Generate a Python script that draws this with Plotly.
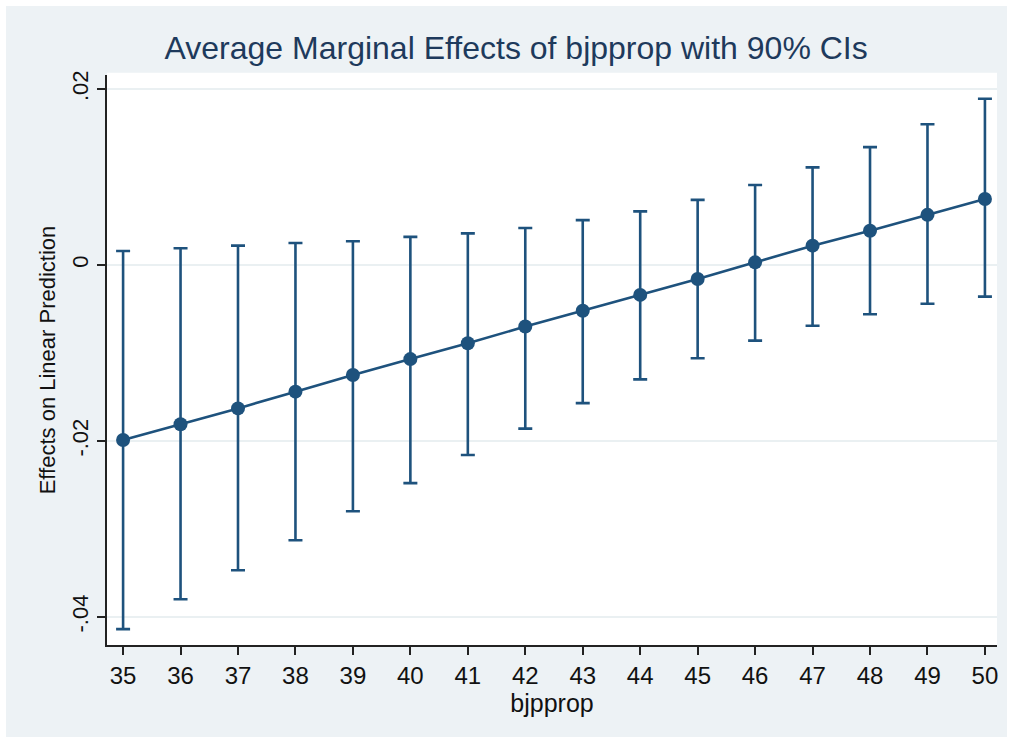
import plotly.graph_objects as go

# Average marginal effects of bjpprop with 90% confidence intervals
bjpprop = [35, 36, 37, 38, 39, 40, 41, 42, 43, 44, 45, 46, 47, 48, 49, 50]
margin = [-0.0199, -0.0181, -0.0163, -0.0144, -0.0125, -0.0107, -0.0089, -0.0070,
          -0.0052, -0.0034, -0.0016, 0.0003, 0.0022, 0.0039, 0.0057, 0.0075]
ci_upper = [0.0016, 0.0019, 0.0022, 0.0025, 0.0027, 0.0032, 0.0036, 0.0042,
            0.0051, 0.0061, 0.0074, 0.0091, 0.0111, 0.0134, 0.0160, 0.0189]
ci_lower = [-0.0414, -0.0380, -0.0347, -0.0313, -0.0280, -0.0248, -0.0216, -0.0186,
            -0.0157, -0.0130, -0.0106, -0.0086, -0.0069, -0.0056, -0.0044, -0.0036]

y_ticks = [-0.04, -0.02, 0, 0.02]
y_ticklabels = ["-.04", "-.02", "0", ".02"]

navy = "#1e527d"
region_bg = "#edf2f5"
grid = "#eaf0f2"
font_family = "Liberation Sans, Arial, sans-serif"

err_plus = [u - m for u, m in zip(ci_upper, margin)]
err_minus = [m - l for m, l in zip(margin, ci_lower)]

fig = go.Figure()
fig.add_trace(go.Scatter(
    x=bjpprop, y=margin,
    mode="lines+markers",
    line=dict(color=navy, width=2.6),
    marker=dict(color=navy, size=14),
    error_y=dict(type="data", symmetric=False, array=err_plus, arrayminus=err_minus,
                 color=navy, thickness=2.6, width=7),
    showlegend=False,
))

# outer graph region and white plot region
fig.add_shape(type="rect", xref="paper", yref="paper", x0=-0.1135, x1=1.0112,
              y0=-0.1614, y1=1.121, fillcolor=region_bg, line_width=0, layer="below")
fig.add_shape(type="rect", xref="paper", yref="paper", x0=0, x1=1, y0=0, y1=1.004,
              fillcolor="white", line_width=0, layer="below")

fig.update_layout(
    width=1014, height=742,
    margin=dict(l=107, r=17, t=75, b=97),
    paper_bgcolor="white",
    plot_bgcolor="white",
    font=dict(family=font_family, color="#111111"),
    title=dict(text="Average Marginal Effects of bjpprop with 90% CIs",
               x=0.509, xanchor="center", y=0.935, yanchor="middle",
               font=dict(size=32, color="#1e3a5c", family=font_family)),
)

fig.update_xaxes(
    range=[34.72, 50.21],
    tickvals=bjpprop,
    ticks="outside", ticklen=8, tickwidth=2, tickcolor="#222222",
    tickfont=dict(size=24, color="#111111"),
    showline=True, linecolor="#222222", linewidth=2,
    showgrid=False, zeroline=False,
    title=dict(text="bjpprop", font=dict(size=25, color="#111111"), standoff=1),
)
fig.update_yaxes(
    range=[-0.0432, 0.0216],
    tickvals=y_ticks, ticktext=y_ticklabels, tickangle=-90,
    ticks="outside", ticklen=8, tickwidth=2, tickcolor="#222222",
    tickfont=dict(size=22, color="#111111"),
    showline=True, linecolor="#222222", linewidth=2,
    showgrid=True, gridcolor=grid, gridwidth=2, zeroline=False,
    title=dict(text="Effects on Linear Prediction", font=dict(size=22, color="#111111"),
               standoff=7),
)

fig.write_html("out.html")
